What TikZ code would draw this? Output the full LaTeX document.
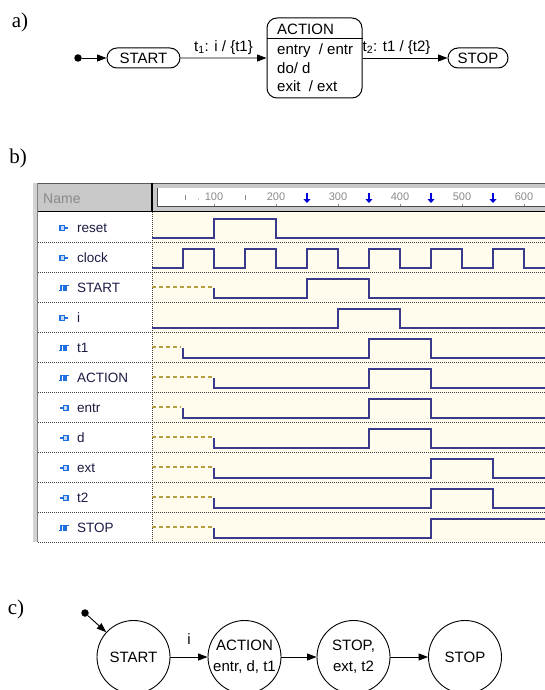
\documentclass[tikz,border=0pt]{standalone}
\usepackage{fontspec}
\setmainfont{Liberation Sans}
\newfontfamily\serifpanel{Liberation Serif}
\usetikzlibrary{arrows.meta,shapes.misc}
\definecolor{wave}{HTML}{3A3A8C}
\definecolor{cream}{HTML}{FFFCEE}
\definecolor{dashy}{HTML}{B4A040}
\definecolor{headgray}{HTML}{C8C8C8}
\definecolor{sepgray}{HTML}{404040}
\definecolor{iconblue}{HTML}{1F6FE0}
\definecolor{lbl}{HTML}{1C1C44}
\definecolor{rulergray}{HTML}{8A8A8A}
\begin{document}
\begin{tikzpicture}[x=1pt,y=-1pt,
  arr/.style={-{Triangle[length=9.5pt,width=7pt]}, line width=0.9pt},
  txt/.style={font=\fontsize{15}{19}\selectfont, inner sep=0pt},
  panel/.style={font=\serifpanel\fontsize{21}{24}\selectfont, inner sep=0pt},
  sbox/.style={draw, line width=1pt, rounded rectangle, minimum width=73pt, minimum height=20pt, inner sep=0pt, font=\fontsize{15}{18}\selectfont},
  idot/.style={circle, fill=black, minimum size=7.5pt, inner sep=0pt},
  ststate/.style={draw, line width=0.9pt, circle, minimum size=73pt, inner sep=0pt, align=center, font=\fontsize{15}{19}\selectfont},
  wv/.style={draw=wave, line width=1.4pt},
  dsh/.style={draw=dashy, line width=1.1pt, dash pattern=on 4pt off 3pt},
  rowsep/.style={draw=sepgray, line width=0.9pt, dash pattern=on 1pt off 1pt},
  sig/.style={anchor=west, inner sep=0pt, text=lbl, font=\fontsize{13.5}{15}\selectfont},
  tnum/.style={inner sep=0pt, text=rulergray, font=\fontsize{11}{13}\selectfont},
  inpic/.pic={\draw[iconblue, line width=1.5pt, fill=iconblue!25] (-4,-2.3) rectangle (0.5,2.3); \draw[iconblue, line width=1.5pt] (0.5,0) -- (4,0);},
  outpic/.pic={\draw[iconblue, line width=1.5pt] (-4,0) -- (-0.5,0); \draw[iconblue, line width=1.5pt, fill=iconblue!25] (-0.5,-2.3) rectangle (4,2.3);},
  pulsepic/.pic={\draw[iconblue, line width=1.4pt] (-5,2.5) -- (-3,2.5) -- (-3,-2.5) -- (0,-2.5) -- (0,2.5) -- (2,2.5) -- (2,-2.5) -- (5,-2.5);}
]
\useasboundingbox (0,0) rectangle (545,690);
\clip (0,0) rectangle (545,690);

% ---------------- panel a
\node[panel] (la) at (20,22) {a)};
\node[idot] (ia) at (78,58) {};
\node[sbox] (starta) at (143.5,58) {START};
\node[draw, line width=1pt, rounded corners=10pt, minimum width=95pt, minimum height=80pt, inner sep=0pt] (action) at (314.5,58) {};
\draw[line width=1pt] (action.west |- 0,39) -- (action.east |- 0,39);
\node[txt, anchor=west] (acttitle) at (277,29.5) {ACTION};
\node[txt, anchor=west] (actentry) at (277,51) {entry\ \ / entr};
\node[txt, anchor=west] (actdo) at (277,68.5) {do/ d};
\node[txt, anchor=west] (actexit) at (277,86) {exit\ \ / ext};
\node[sbox, minimum width=60pt] (stopa) at (478,58) {STOP};
\draw[arr] (ia) -- (starta);
\draw[arr] (starta) -- (action) node[txt, midway, above=3pt] (lt1) {t\textsubscript{1}: i / \{t1\}};
\draw[arr] (action) -- (stopa) node[txt, pos=0.4, above=3pt] (lt2) {t\textsubscript{2}: t1 / \{t2\}};

% ---------------- panel b
\node[panel] (lb) at (18,158) {b)};
% frame and header
\fill[headgray!80] (33,183) rectangle (38,542);
\draw[gray, line width=0.8pt] (37.5,183) -- (37.5,542);
\fill[headgray] (38,183) rectangle (545,211);
\fill[white] (157,188) rectangle (545,206.5);
\draw[gray!70!black, line width=0.8pt] (38,183.5) -- (545,183.5);
\draw[black, line width=1.2pt] (38,211.5) -- (545,211.5);
\draw[black, line width=1.2pt] (152,183) -- (152,211.5);
\draw[gray!60!black, line width=0.6pt] (157,188) -- (157,206.5) -- (545,206.5);
\node[anchor=west, inner sep=0pt, text=rulergray, font=\fontsize{14}{16}\selectfont] (hname) at (43,199) {Name};
% ruler
\begin{scope}[xshift=152pt, x=0.62pt]
  \foreach \t in {100,200,300,400,500,600} {
    \node[tnum] (r\t) at (\t,196.5) {\t};
    \draw[rulergray, line width=0.5pt] (\t,203.5) -- (\t,205.5);
  }
  \draw[rulergray, line width=0.7pt] (53,195) -- (53,200);
  \draw[rulergray, line width=0.7pt] (151,195) -- (151,200);
  \fill[rulergray] (75,199) circle (0.7);
  \foreach \t in {250,350,450,550} {
    \draw[blue!85!black, line width=1.3pt, -{Triangle[length=4pt,width=7pt]}] (\t,193) -- (\t,203);
  }
\end{scope}
% rows background
\fill[white] (38,212.2) rectangle (152,542);
\fill[cream] (152,212.2) rectangle (545,542);
\foreach \k in {0,...,10} {
  \draw[rowsep] (38,242+30*\k) -- (545,242+30*\k);
}
\draw[rowsep] (152,212) -- (152,542);

% signal names
\foreach \k/\nm/\ic in {0/reset/inpic,1/clock/inpic,2/START/pulsepic,3/i/inpic,4/t1/pulsepic,5/ACTION/pulsepic,6/entr/outpic,7/d/outpic,8/ext/outpic,9/t2/outpic,10/STOP/pulsepic} {
  \pic at (64,228+30*\k) {\ic};
  \node[sig] (s\k) at (77,228+30*\k) {\nm};
}

% waveforms
\begin{scope}[xshift=152pt, x=0.62pt]
  % reset
  \draw[wv] (0,238) -- (100,238) -- (100,219) -- (200,219) -- (200,238) -- (634,238);
  % clock
  \draw[wv] (0,268) foreach \t in {50,150,250,350,450,550} { -- (\t,268) -- (\t,249) -- (\t+50,249) -- (\t+50,268) } -- (634,268);
  % START
  \draw[dsh] (0,287) -- (97,287);
  \draw[wv] (100,288) -- (100,298) -- (250,298) -- (250,279) -- (350,279) -- (350,298) -- (634,298);
  % i
  \draw[wv] (0,328) -- (300,328) -- (300,309) -- (400,309) -- (400,328) -- (634,328);
  % t1
  \draw[dsh] (0,347) -- (47,347);
  \draw[wv] (50,348) -- (50,358) -- (350,358) -- (350,339) -- (450,339) -- (450,358) -- (634,358);
  % ACTION
  \draw[dsh] (0,377) -- (97,377);
  \draw[wv] (100,378) -- (100,388) -- (350,388) -- (350,369) -- (450,369) -- (450,388) -- (634,388);
  % entr
  \draw[dsh] (0,407) -- (47,407);
  \draw[wv] (50,408) -- (50,418) -- (350,418) -- (350,399) -- (450,399) -- (450,418) -- (634,418);
  % d
  \draw[dsh] (0,437) -- (97,437);
  \draw[wv] (100,438) -- (100,448) -- (350,448) -- (350,429) -- (450,429) -- (450,448) -- (634,448);
  % ext
  \draw[dsh] (0,467) -- (97,467);
  \draw[wv] (100,468) -- (100,478) -- (450,478) -- (450,459) -- (550,459) -- (550,478) -- (634,478);
  % t2
  \draw[dsh] (0,497) -- (97,497);
  \draw[wv] (100,498) -- (100,508) -- (450,508) -- (450,489) -- (550,489) -- (550,508) -- (634,508);
  % STOP
  \draw[dsh] (0,527) -- (97,527);
  \draw[wv] (100,528) -- (100,538) -- (450,538) -- (450,519) -- (634,519);
\end{scope}

% ---------------- panel c
\node[panel] (lc) at (16,609) {c)};
\node[idot] (ic) at (85,613) {};
\node[ststate] (cstart) at (133.5,657) {START};
\node[ststate] (caction) at (244.5,657) {ACTION\\[2pt]entr, d, t1};
\node[ststate] (cstop1) at (353.5,657) {STOP,\\[2pt]ext, t2};
\node[ststate] (cstop2) at (465,657) {STOP};
\draw[arr] (ic) -- (cstart);
\draw[arr] (cstart) -- (caction) node[txt, midway, above=12pt] (li) {i};
\draw[arr] (caction) -- (cstop1);
\draw[arr] (cstop1) -- (cstop2);
\end{tikzpicture}
\end{document}
